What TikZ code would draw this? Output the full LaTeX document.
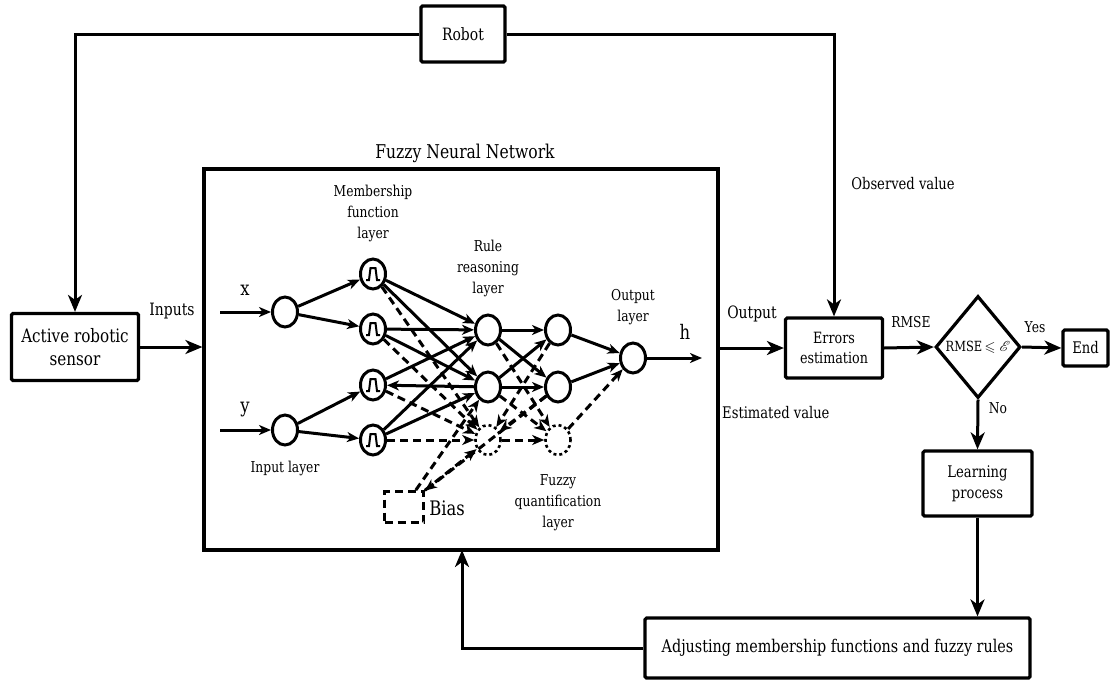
\documentclass[tikz,border=0pt]{standalone}
\usepackage{fontspec}
\setmainfont{DejaVu Serif}[FakeStretch=0.82]
\usepackage{amssymb}
\usepackage{mathrsfs}
\usetikzlibrary{arrows.meta,shapes.geometric}
\begin{document}
\begin{tikzpicture}[x=1pt,y=-1pt,
 box/.style={draw, line width=3.2pt, rectangle, rounded corners=1.5pt, inner sep=2pt, align=center, font=\fontsize{17}{21}\selectfont},
 arr/.style={line width=3pt, -{Stealth[length=17pt,width=14pt,inset=5pt]}},
 neuron/.style={draw, ellipse, line width=3pt, minimum width=25pt, minimum height=30pt, inner sep=0pt},
 dneuron/.style={draw, ellipse, line width=2.6pt, dash pattern=on 3pt off 3pt, minimum width=25pt, minimum height=30pt, inner sep=0pt},
 na/.style={line width=3pt, -{Stealth[length=12pt,width=10pt,inset=3.5pt]}},
 nd/.style={na, dash pattern=on 8pt off 5pt},
 lbl/.style={font=\fontsize{16}{20}\selectfont, align=center, inner sep=0pt},
 big/.style={font=\fontsize{20}{24}\selectfont, inner sep=0pt},
]
\useasboundingbox (0,0) rectangle (1110,680);

% ---------- outer blocks ----------
\node[box, minimum width=84pt, minimum height=56pt] (robot) at (463,34) {Robot};
\node[box, minimum width=127pt, minimum height=67pt, font=\fontsize{18.5}{23}\selectfont] (sensor) at (75,347) {Active robotic\\sensor};
\node[draw, line width=3.2pt, minimum width=514pt, minimum height=381pt, inner sep=0pt] (fnn) at (461,359.5) {};
\node[lbl, font=\fontsize{19}{22}\selectfont] (title) at (465,153) {Fuzzy Neural Network};
\node[box, minimum width=97pt, minimum height=60pt, font=\fontsize{15.5}{20}\selectfont] (err) at (834,348) {Errors\\estimation};
\node[draw, diamond, line width=3.2pt, minimum width=85pt, minimum height=102pt, inner sep=0pt] (dec) at (978,347) {};
\node[lbl, font=\fontsize{14}{17}\selectfont] (dectext) at (dec.center) {RMSE\,$\leqslant\mathscr{E}$};
\node[box, minimum width=45pt, minimum height=36pt, font=\fontsize{16}{20}\selectfont] (end) at (1085.5,348) {End};
\node[box, minimum width=109pt, minimum height=65pt, font=\fontsize{16}{21}\selectfont] (learn) at (977.5,483.5) {Learning\\process};
\node[box, minimum width=385pt, minimum height=60pt, font=\fontsize{17.5}{20}\selectfont] (adj) at (837.5,648) {Adjusting membership functions and fuzzy rules};

% ---------- outer labels ----------
\node[lbl, font=\fontsize{17}{20}\selectfont] (linputs) at (172,311) {Inputs};
\node[lbl, font=\fontsize{17}{20}\selectfont] (loutput) at (752,314) {Output};
\node[lbl, font=\fontsize{16}{20}\selectfont, anchor=west] (lest) at (722,413) {Estimated value};
\node[lbl, font=\fontsize{16}{20}\selectfont] (lobs) at (903,184) {Observed value};
\node[lbl, font=\fontsize{15}{18}\selectfont] (lrmse) at (911,322) {RMSE};
\node[lbl, font=\fontsize{15}{18}\selectfont] (lyes) at (1035,327) {Yes};
\node[lbl, font=\fontsize{15}{18}\selectfont] (lno) at (998,408) {No};

% ---------- outer connectors ----------
\draw[arr] (robot.west) -| (sensor.north);
\draw[arr] (robot.east) -| (err.north);
\draw[arr] (sensor.east) -- (sensor.east -| fnn.west);
\draw[arr] (err.west -| fnn.east) -- (err.west);
\draw[arr] (err.east) -- (dec.west);
\draw[arr] (dec.east) -- (end.west);
\draw[arr] (dec.south) -- (learn.north);
\draw[arr] (learn.south) -- (learn.south |- adj.north);
\coordinate (fb) at (462,550);
\draw[arr] (adj.west) -| (fb);

% ---------- network nodes ----------
\node[neuron] (xn) at (285,312) {};
\node[neuron] (yn) at (285,430) {};
\node[neuron] (mf1) at (373,274) {};
\node[neuron] (mf2) at (373,329) {};
\node[neuron] (mf3) at (373,385) {};
\node[neuron] (mf4) at (373,440) {};
\node[neuron] (r1) at (488,330) {};
\node[neuron] (r2) at (488,387) {};
\node[dneuron] (r3) at (488,440) {};
\node[neuron] (l1) at (558,330) {};
\node[neuron] (l2) at (558,387) {};
\node[dneuron] (l3) at (558,440) {};
\node[neuron] (on) at (633,358) {};
\node[draw, line width=2.8pt, dash pattern=on 8pt off 5pt, minimum width=39pt, minimum height=31pt, inner sep=0pt] (bias) at (404,507) {};

\foreach \m in {mf1,mf2,mf3,mf4}
  \draw[line width=2pt] ([shift={(-7,6)}]\m.center) -- ++(3,0) -- ++(1.5,-12) -- ++(5,0) -- ++(1.5,12) -- ++(3,0);

% ---------- network labels ----------
\node[lbl, font=\fontsize{15}{21}\selectfont] (lmf) at (373,213) {Membership\\function\\layer};
\node[lbl, font=\fontsize{15}{21}\selectfont] (lrule) at (488,268) {Rule\\reasoning\\layer};
\node[lbl, font=\fontsize{15}{21}\selectfont] (lout) at (633,307) {Output\\layer};
\node[lbl, font=\fontsize{15}{21}\selectfont] (lfq) at (558,503) {Fuzzy\\quantification\\layer};
\node[lbl, font=\fontsize{15}{18}\selectfont] (lin) at (285,468) {Input layer};
\node[big] (lx) at (245,290) {x};
\node[big] (ly) at (245,410) {y};
\node[big] (lh) at (685,332) {h};
\node[big] (lbias) at (447,508) {Bias};

% ---------- network connectors ----------
\coordinate (xin) at (220,312);
\coordinate (yin) at (220,430);
\coordinate (hout) at (702,358);
\draw[na] (xin) -- (xn);
\draw[na] (yin) -- (yn);
\draw[na] (on) -- (hout);
\draw[na] (xn) -- (mf1);
\draw[na] (xn) -- (mf2);
\draw[na] (yn) -- (mf3);
\draw[na] (yn) -- (mf4);
\draw[na] (mf1) -- (r1);
\draw[na] (mf1) -- (r2);
\draw[na] (mf2) -- (r1);
\draw[na] (mf2) -- (r2);
\draw[na] (mf3) -- (r1);
\draw[na] (r2) -- (mf3);
\draw[na] (mf4) -- (r1);
\draw[na] (mf4) -- (r2);
\draw[na] (r1) -- (l1);
\draw[na] (r1) -- (l2);
\draw[na] (r2) -- (l1);
\draw[na] (r2) -- (l2);
\draw[na] (l1) -- (on);
\draw[na] (l2) -- (on);
% dashed
\draw[nd] (mf1) -- (r3);
\draw[nd] (mf2) -- (r3);
\draw[nd] (mf3) -- (r3);
\draw[nd] (mf4) -- (r3);
\draw[nd] (r1) -- (l3);
\draw[nd] (r2) -- (l3);
\draw[nd] (r3) -- (l3);
\draw[nd] (l1) -- (r3);
\draw[nd] (l2) -- (r3);
\draw[nd] (l3) -- (on);
\draw[nd] (bias) -- (r2);
\draw[nd] (bias) -- (r3);
\draw[nd] (l2) -- (bias);
\end{tikzpicture}
\end{document}
